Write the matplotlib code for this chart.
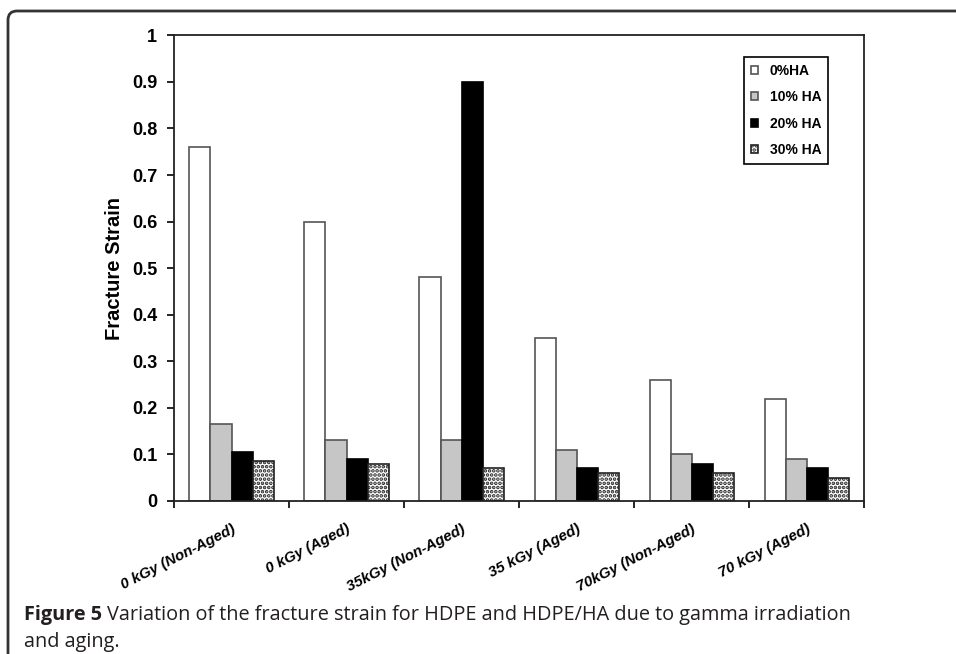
import numpy as np
import matplotlib
matplotlib.use("Agg")
import matplotlib.pyplot as plt
from matplotlib.patches import FancyBboxPatch
from matplotlib.transforms import IdentityTransform

# data
categories = ["0 kGy (Non-Aged)", "0 kGy (Aged)", "35kGy (Non-Aged)",
              "35 kGy (Aged)", "70kGy (Non-Aged)", "70 kGy (Aged)"]
ha_0 = [0.76, 0.60, 0.48, 0.35, 0.26, 0.22]
ha_10 = [0.165, 0.13, 0.13, 0.11, 0.10, 0.09]
ha_20 = [0.105, 0.09, 0.90, 0.07, 0.08, 0.07]
ha_30 = [0.085, 0.08, 0.07, 0.06, 0.06, 0.05]
series_labels = ["0%HA", "10% HA", "20% HA", "30% HA"]
y_ticks = [0, 0.1, 0.2, 0.3, 0.4, 0.5, 0.6, 0.7, 0.8, 0.9, 1]
y_ticklabels = ["0", "0.1", "0.2", "0.3", "0.4", "0.5", "0.6", "0.7", "0.8", "0.9", "1"]

plt.rcParams['font.family'] = ['Liberation Sans', 'DejaVu Sans']
plt.rcParams['hatch.linewidth'] = 1.8

fig = plt.figure(figsize=(9.56, 6.54), dpi=100)
ax = fig.add_axes([0.182, 0.234, 0.722, 0.712])

styles = [
    dict(facecolor='white', edgecolor='#555555', hatch=None),
    dict(facecolor='#c6c6c6', edgecolor='#555555', hatch=None),
    dict(facecolor='black', edgecolor='black', hatch=None),
    dict(facecolor='white', edgecolor='#222222', hatch='....'),
]

x = np.arange(len(categories)) + 0.5
w = 0.183
for i, (vals, lab, st) in enumerate(zip([ha_0, ha_10, ha_20, ha_30], series_labels, styles)):
    ax.bar(x + (i - 1.5) * w, vals, width=w, label=lab, linewidth=1.2, **st)

ax.set_xlim(0, len(categories))
ax.set_ylim(0, 1)
ax.set_yticks(y_ticks)
ax.set_yticklabels(y_ticklabels, fontsize=13, fontweight='bold')
ax.tick_params(axis='y', direction='out', length=5, width=1.2, pad=7)

# category boundaries carry the tick marks, labels sit at group centres
ax.set_xticks(np.arange(len(categories) + 1))
ax.set_xticklabels([])
ax.tick_params(axis='x', which='major', direction='out', length=5, width=1.2)
ax.set_xticks(x, minor=True)
ax.set_xticklabels(categories, minor=True, rotation=27, ha='right',
                   rotation_mode='anchor', fontsize=10.8, fontweight='bold', style='italic')
ax.tick_params(axis='x', which='minor', length=0, pad=15)

for sp in ax.spines.values():
    sp.set_linewidth(1.3)
    sp.set_color('#222222')

ax.set_ylabel("Fracture Strain", fontsize=14.5, fontweight='bold', labelpad=6)

leg = ax.legend(loc='upper left', bbox_to_anchor=(0.826, 0.953), borderaxespad=0,
                fancybox=False, edgecolor='black', framealpha=1,
                handlelength=0.5, handleheight=0.5, handletextpad=0.85,
                labelspacing=0.88, borderpad=0.5,
                prop=dict(weight='bold', size=10))
leg.get_frame().set_linewidth(1.2)

# rounded frame of the figure panel (opens to the right and bottom)
frame = FancyBboxPatch((8, -40), 1100, 654 - 11 + 40, boxstyle="round,pad=0,rounding_size=9",
                       transform=IdentityTransform(), facecolor='none',
                       edgecolor='#333333', linewidth=2, clip_on=False)
fig.patches.append(frame)

# caption
cap_font = ['Open Sans', 'DejaVu Sans']
t1 = fig.text(24 / 956, 0.052, "Figure 5", fontsize=14.3, fontweight='bold',
              family=cap_font, color='#231f20')
fig.canvas.draw()
bb = t1.get_window_extent()
fig.text((bb.x1 + 5) / 956, 0.052,
         "Variation of the fracture strain for HDPE and HDPE/HA due to gamma irradiation",
         fontsize=14.3, family=cap_font, color='#231f20')
fig.text(24 / 956, 0.011, "and aging.", fontsize=14.3, family=cap_font, color='#231f20')

fig.savefig("out.png", dpi=100)
